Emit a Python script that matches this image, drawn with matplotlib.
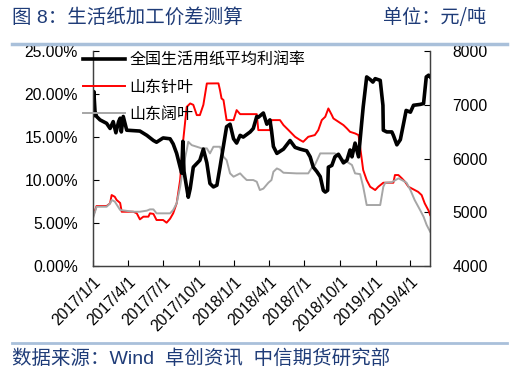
import matplotlib
matplotlib.use("Agg")
import matplotlib.pyplot as plt
import pandas as pd
from matplotlib.lines import Line2D

plt.rcParams["font.family"] = ["Liberation Sans", "Noto Sans CJK SC", "DejaVu Sans"]

# 全国生活用纸平均利润率 (%)
profit_dates = [
    "2017-01-01", "2017-01-03", "2017-01-06", "2017-01-10", "2017-01-19", "2017-02-05",
    "2017-02-14", "2017-02-22", "2017-03-01", "2017-03-08", "2017-03-12", "2017-03-15",
    "2017-03-20", "2017-03-29", "2017-05-02", "2017-05-20", "2017-06-06", "2017-06-14",
    "2017-07-01", "2017-07-19", "2017-07-27", "2017-08-05", "2017-08-14", "2017-08-18",
    "2017-08-21", "2017-08-24", "2017-09-04", "2017-09-09", "2017-09-17", "2017-10-04",
    "2017-10-13", "2017-10-22", "2017-10-30", "2017-11-08", "2017-11-17", "2017-11-25",
    "2017-12-04", "2017-12-12", "2017-12-21", "2017-12-30", "2018-01-07", "2018-01-16",
    "2018-01-24", "2018-02-11", "2018-02-19", "2018-02-28", "2018-03-04", "2018-03-17",
    "2018-03-26", "2018-04-03", "2018-04-07", "2018-04-12", "2018-04-21", "2018-05-08",
    "2018-05-25", "2018-06-07", "2018-06-20", "2018-07-07", "2018-07-16", "2018-07-24",
    "2018-08-02", "2018-08-11", "2018-08-19", "2018-08-24", "2018-08-30", "2018-09-01",
    "2018-09-10", "2018-09-18", "2018-09-27", "2018-10-10", "2018-10-19", "2018-10-27",
    "2018-11-01", "2018-11-09", "2018-11-18", "2018-11-26", "2018-11-30", "2018-12-09",
    "2018-12-18", "2018-12-25", "2018-12-31", "2019-01-13", "2019-01-20", "2019-01-21",
    "2019-01-30", "2019-02-12", "2019-02-16", "2019-02-25", "2019-03-06", "2019-03-14",
    "2019-03-21", "2019-04-01", "2019-04-09", "2019-04-26", "2019-05-05", "2019-05-12",
    "2019-05-18", "2019-05-22",
]
profit_rate = [
    17.5, 20.3, 18.0, 17.4, 17.0, 16.6,
    16.0, 16.8, 15.5, 16.8, 17.2, 15.6,
    17.4, 15.8, 15.7, 15.2, 14.6, 14.4,
    14.9, 14.8, 14.2, 13.1, 11.5, 10.8,
    14.5, 11.0, 8.0, 9.0, 11.5, 12.3,
    13.6, 12.0, 9.6, 9.2, 9.4, 11.5,
    14.0, 16.2, 16.5, 14.8, 14.3, 15.2,
    15.0, 15.6, 16.0, 17.4, 17.3, 17.8,
    16.5, 17.0, 15.8, 13.9, 13.1, 13.6,
    14.6, 13.8, 13.6, 13.4, 12.7, 11.5,
    11.0, 10.4, 8.8, 8.6, 8.8, 11.5,
    11.7, 12.7, 13.0, 12.0, 12.3, 13.5,
    12.7, 14.3, 12.7, 16.6, 18.5, 22.0,
    21.7, 21.4, 21.8, 21.6, 18.7, 15.8,
    15.6, 15.6, 15.2, 14.1, 14.7, 16.5,
    18.1, 17.9, 18.7, 18.8, 18.9, 22.0,
    22.2, 22.0,
]

# 山东针叶 (元/吨)
softwood_dates = [
    "2017-01-02", "2017-01-10", "2017-02-05", "2017-02-14", "2017-02-18", "2017-02-26",
    "2017-03-03", "2017-03-12", "2017-03-16", "2017-04-15", "2017-04-24", "2017-05-02",
    "2017-05-11", "2017-05-24", "2017-05-28", "2017-06-06", "2017-06-14", "2017-07-01",
    "2017-07-10", "2017-07-19", "2017-07-27", "2017-08-05", "2017-08-14", "2017-08-22",
    "2017-08-31", "2017-09-09", "2017-09-17", "2017-09-26", "2017-10-04", "2017-10-13",
    "2017-10-22", "2017-11-21", "2017-11-25", "2017-11-29", "2017-12-04", "2017-12-12",
    "2017-12-30", "2018-01-07", "2018-01-16", "2018-02-28", "2018-03-04", "2018-04-03",
    "2018-04-07", "2018-04-29", "2018-05-08", "2018-05-21", "2018-06-07", "2018-06-20",
    "2018-06-28", "2018-07-11", "2018-07-28", "2018-08-06", "2018-08-15", "2018-08-24",
    "2018-09-01", "2018-09-10", "2018-09-14", "2018-09-27", "2018-10-10", "2018-10-19",
    "2018-10-27", "2018-11-09", "2018-11-18", "2018-11-22", "2018-11-30", "2018-12-09",
    "2018-12-18", "2018-12-31", "2019-01-08", "2019-01-21", "2019-02-16", "2019-02-20",
    "2019-03-01", "2019-03-10", "2019-03-18", "2019-03-27", "2019-04-09", "2019-04-21",
    "2019-04-30", "2019-05-08", "2019-05-18", "2019-05-22",
]
softwood_price = [
    4949, 5116, 5116, 5166, 5321, 5289,
    5228, 5173, 5010, 5010, 4980, 4868,
    4918, 4918, 4980, 4970, 4856, 4856,
    4806, 4880, 4980, 5166, 5600, 6344,
    6963, 7026, 7000, 6809, 6809, 7000,
    7398, 7400, 7274, 7119, 7090, 6716,
    6716, 6902, 6827, 6827, 6530, 6530,
    6716, 6716, 6623, 6530, 6405, 6344,
    6312, 6405, 6437, 6530, 6716, 6778,
    6933, 6809, 6747, 6685, 6623, 6560,
    6498, 6468, 6437, 6220, 5786, 5600,
    5475, 5414, 5475, 5550, 5550, 5693,
    5693, 5631, 5568, 5475, 5426, 5380,
    5320, 5166, 5030, 4949,
]

# 山东阔叶 (元/吨)
hardwood_dates = [
    "2017-01-02", "2017-01-10", "2017-02-05", "2017-02-14", "2017-02-18", "2017-02-26",
    "2017-03-12", "2017-04-15", "2017-05-02", "2017-05-20", "2017-05-28", "2017-06-06",
    "2017-06-14", "2017-07-19", "2017-07-27", "2017-08-05", "2017-08-14", "2017-08-22",
    "2017-08-31", "2017-09-04", "2017-09-13", "2017-09-26", "2017-10-09", "2017-10-22",
    "2017-10-30", "2017-11-08", "2017-11-25", "2017-12-04", "2017-12-12", "2017-12-21",
    "2017-12-30", "2018-01-16", "2018-01-24", "2018-02-02", "2018-02-19", "2018-02-28",
    "2018-03-08", "2018-03-17", "2018-03-30", "2018-04-07", "2018-04-12", "2018-04-21",
    "2018-04-29", "2018-05-08", "2018-06-11", "2018-07-11", "2018-07-19", "2018-07-28",
    "2018-08-11", "2018-09-18", "2018-09-27", "2018-10-06", "2018-10-19", "2018-11-01",
    "2018-11-09", "2018-11-22", "2018-11-30", "2018-12-05", "2018-12-09", "2019-01-13",
    "2019-01-21", "2019-01-26", "2019-02-12", "2019-03-01", "2019-03-10", "2019-03-22",
    "2019-04-01", "2019-04-12", "2019-04-26", "2019-05-05", "2019-05-13", "2019-05-22",
]
hardwood_price = [
    4917, 5103, 5103, 5166, 5228, 5200,
    5042, 5010, 5010, 5030, 5054, 5054,
    4980, 4980, 5042, 5166, 5475, 5847,
    6158, 6312, 6250, 6220, 6190, 6190,
    6096, 6220, 6220, 6034, 5972, 5724,
    5662, 5724, 5662, 5600, 5600, 5568,
    5414, 5440, 5550, 5600, 5754, 5816,
    5790, 5736, 5724, 5724, 5816, 5879,
    6096, 6096, 6034, 5990, 5940, 5880,
    5724, 5710, 5475, 5289, 5135, 5135,
    5475, 5550, 5560, 5631, 5600, 5550,
    5414, 5228, 5042, 4917, 4763, 4638,
]

tick_dates = [
    "2017-01-01", "2017-04-01", "2017-07-01", "2017-10-01", "2018-01-01",
    "2018-04-01", "2018-07-01", "2018-10-01", "2019-01-01", "2019-04-01",
]
tick_labels = [
    "2017/1/1", "2017/4/1", "2017/7/1", "2017/10/1", "2018/1/1",
    "2018/4/1", "2018/7/1", "2018/10/1", "2019/1/1", "2019/4/1",
]

navy = "#1F3C78"
band = "#A9C0DA"

fig = plt.figure(figsize=(5.17, 3.76), dpi=100)
ax = fig.add_axes([0.180, 0.2926, 0.652, 0.5714])
ax2 = ax.twinx()
ax.set_zorder(ax2.get_zorder() + 1)
ax.patch.set_visible(False)

l1, = ax.plot(pd.to_datetime(profit_dates), profit_rate, color="black", lw=2.6,
              solid_joinstyle="round")
l2, = ax2.plot(pd.to_datetime(softwood_dates), softwood_price, color="#FF0000", lw=1.4)
l3, = ax2.plot(pd.to_datetime(hardwood_dates), hardwood_price, color="#A6A6A6", lw=1.4)

ax.set_xlim(pd.Timestamp("2017-01-01"), pd.Timestamp("2019-05-22"))
ax.set_ylim(0, 25)
ax.set_yticks([0, 5, 10, 15, 20, 25])
ax.set_yticklabels([f"{v:.2f}%" for v in [0, 5, 10, 15, 20, 25]])
ax2.set_ylim(4000, 8000)
ax2.set_yticks([4000, 5000, 6000, 7000, 8000])

ax.set_xticks(pd.to_datetime(tick_dates))
ax.set_xticklabels(tick_labels, rotation=45, ha="right", va="top", rotation_mode="anchor")

for a in (ax, ax2):
    a.spines["top"].set_visible(False)
    for s in ("left", "right", "bottom"):
        a.spines[s].set_color("#404040")
        a.spines[s].set_linewidth(0.9)
    a.tick_params(direction="in", length=4, width=0.8, labelsize=11.3, colors="black")
ax.tick_params(axis="x", pad=6)
ax.tick_params(axis="y", pad=11)
ax2.tick_params(axis="y", pad=16)

cjk = {"family": ["Noto Sans CJK SC", "DejaVu Sans"], "size": 11.5}
fig.legend([l1, l2, l3], ["全国生活用纸平均利润率", "山东针叶", "山东阔叶"],
           loc="upper left", bbox_to_anchor=(83 / 517, 1 - 52 / 376),
           frameon=False, prop=cjk, borderpad=0, borderaxespad=0,
           handlelength=2.6, handletextpad=0.3, labelspacing=0.62)

fig.text(12 / 517, 1 - 17 / 376, "图 8：生活纸加工价差测算", color=navy, fontsize=14,
         va="center", ha="left", family=["Liberation Sans", "Noto Sans CJK SC"])
fig.text(486 / 517, 1 - 17 / 376, "单位：元/吨", color=navy, fontsize=13.8,
         va="center", ha="right", family=["Noto Sans CJK SC", "DejaVu Sans"])
fig.add_artist(Line2D([12 / 517, 507 / 517], [1 - 43.5 / 376] * 2, color=band, lw=2.5))
fig.add_artist(Line2D([12 / 517, 507 / 517], [1 - 343 / 376] * 2, color=band, lw=2.0))
fig.text(12 / 517, 1 - 359 / 376, "数据来源：Wind  卓创资讯  中信期货研究部", color=navy,
         fontsize=14, va="center", ha="left", family=["Liberation Sans", "Noto Sans CJK SC"])

fig.savefig("out.png", dpi=100)
